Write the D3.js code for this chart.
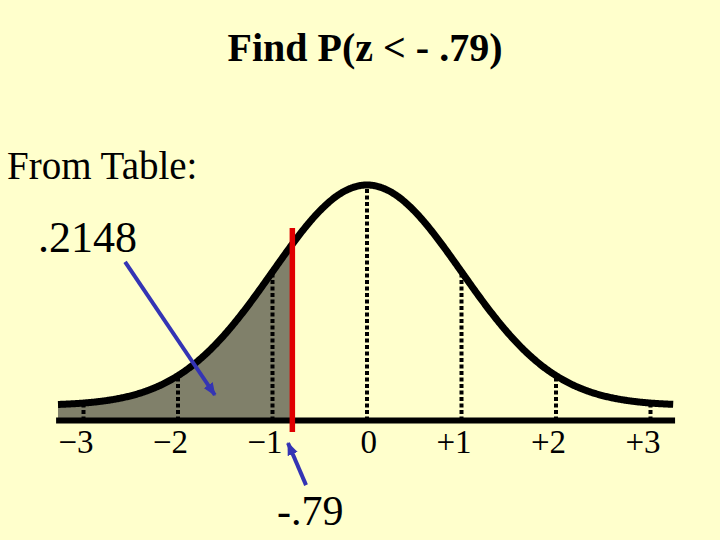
<!DOCTYPE html>
<html>
<head>
<meta charset="utf-8">
<script src="https://cdn.jsdelivr.net/npm/d3@7"></script>
<style>
  html, body { margin: 0; padding: 0; background: #ffffcc; }
  svg { display: block; }
  text { font-family: "Liberation Serif", "Times New Roman", serif; fill: #000; }
</style>
</head>
<body>
<svg id="chart" width="720" height="540"></svg>
<script>
// ---- data ----
const tickValues = [-3, -2, -1, 0, 1, 2, 3];
const tickLabels = ["\u22123", "\u22122", "\u22121", "0", "+1", "+2", "+3"];
const zCut = -0.79;
const probability = ".2148";
const curveExtent = [-3.27, 3.24];
const titleText = "Find P(z < - .79)";
const tableText = "From Table:";
const cutLabel = "-.79";
// annotation arrows in data coords: [zFrom, densFrom, zTo, densTo]
const arrows = [
  [-2.56, 0.260, -1.61, 0.019],
  [-0.645, -0.144, -0.836, -0.068]
];

// ---- scales ----
const svg = d3.select("#chart");
const W = 720, H = 540;
svg.append("rect").attr("width", W).attr("height", H).attr("fill", "#ffffcc");

const x = d3.scaleLinear().domain([-3, 3]).range([83.5, 650.5]);
const pdf = z => Math.exp(-z * z / 2) / Math.sqrt(2 * Math.PI);
const y = d3.scaleLinear().domain([0, pdf(0)]).range([405.5, 185]);
const axisY = 420.5;

const zs = d3.range(curveExtent[0], curveExtent[1] + 1e-9, 0.01);
const pts = zs.map(z => [z, pdf(z)]);

// shaded area
const shadeZs = zs.filter(z => z <= zCut).concat([zCut]);
const area = d3.area()
  .x(d => x(d))
  .y0(axisY)
  .y1(d => y(pdf(d)));
svg.append("path")
  .datum(shadeZs)
  .attr("d", area)
  .attr("fill", "#80806a");

// dotted verticals
svg.append("g").selectAll("line")
  .data(tickValues)
  .join("line")
  .attr("x1", d => x(d)).attr("x2", d => x(d))
  .attr("y1", axisY).attr("y2", d => y(pdf(d)))
  .attr("stroke", "#000")
  .attr("stroke-width", 4)
  .attr("stroke-dasharray", "4,2.5");

// curve
const line = d3.line().x(d => x(d[0])).y(d => y(d[1])).curve(d3.curveBasis);
svg.append("path")
  .datum(pts)
  .attr("d", line)
  .attr("fill", "none")
  .attr("stroke", "#000")
  .attr("stroke-width", 7)
  .attr("stroke-linejoin", "round");

// axis line
svg.append("line")
  .attr("x1", x(-3.29)).attr("x2", x(3.26))
  .attr("y1", axisY).attr("y2", axisY)
  .attr("stroke", "#000").attr("stroke-width", 6);

// red cut line
svg.append("line")
  .attr("x1", x(zCut)).attr("x2", x(zCut))
  .attr("y1", 228).attr("y2", 432)
  .attr("stroke", "#e00000").attr("stroke-width", 5.5);

// tick labels
svg.append("g").selectAll("text")
  .data(tickValues)
  .join("text")
  .attr("x", d => x(d) + 10)
  .attr("y", 453)
  .attr("text-anchor", "end")
  .attr("font-size", 33)
  .text((d, i) => tickLabels[i]);

// arrows
const defs = svg.append("defs");
defs.append("marker")
  .attr("id", "ah")
  .attr("viewBox", "0 0 12 10")
  .attr("refX", 11).attr("refY", 5)
  .attr("markerWidth", 13).attr("markerHeight", 11)
  .attr("markerUnits", "userSpaceOnUse")
  .attr("orient", "auto")
  .append("path")
  .attr("d", "M0,0 L12,5 L0,10 Z")
  .attr("fill", "#3434b4");

svg.append("g").selectAll("line")
  .data(arrows)
  .join("line")
  .attr("x1", d => x(d[0])).attr("y1", d => y(d[1]))
  .attr("x2", d => x(d[2])).attr("y2", d => y(d[3]))
  .attr("stroke", "#3434b4")
  .attr("stroke-width", 4)
  .attr("marker-end", "url(#ah)");

// texts
svg.append("text")
  .attr("x", 365).attr("y", 61)
  .attr("text-anchor", "middle")
  .attr("font-size", 40)
  .attr("font-weight", "bold")
  .text(titleText);

svg.append("text")
  .attr("x", 7).attr("y", 179)
  .attr("font-size", 39)
  .text(tableText);

svg.append("text")
  .attr("x", 38).attr("y", 252)
  .attr("font-size", 44)
  .text(probability);

svg.append("text")
  .attr("x", 277).attr("y", 525)
  .attr("font-size", 42)
  .text(cutLabel);
</script>
</body>
</html>
